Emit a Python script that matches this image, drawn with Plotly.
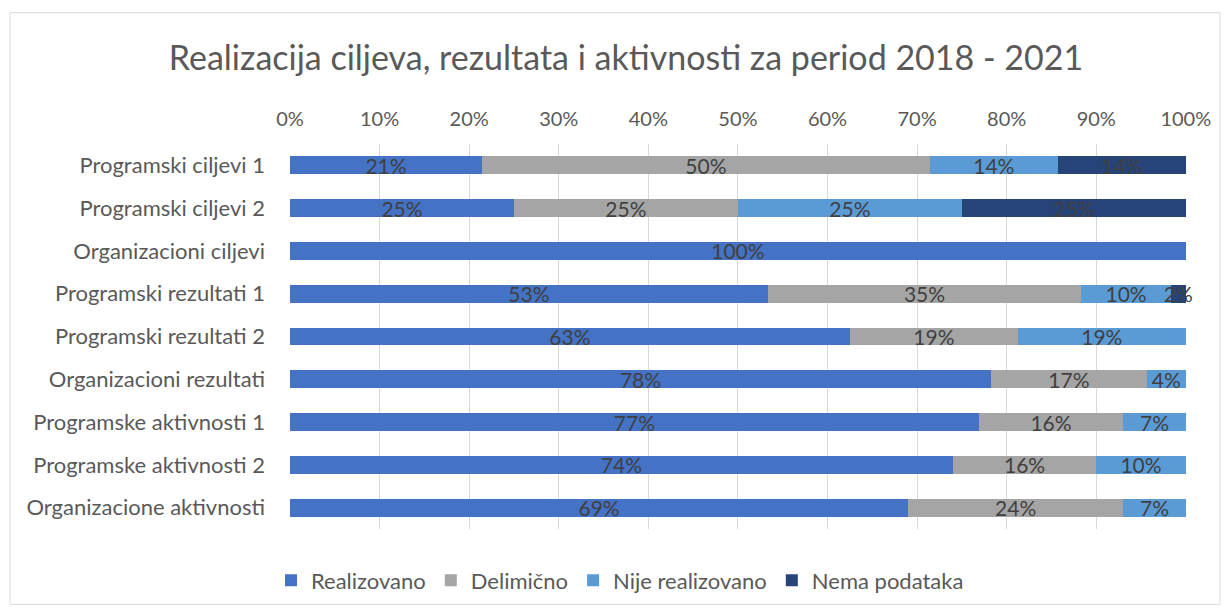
import plotly.graph_objects as go

categories = ["Programski ciljevi 1", "Programski ciljevi 2", "Organizacioni ciljevi",
              "Programski rezultati 1", "Programski rezultati 2", "Organizacioni rezultati",
              "Programske aktivnosti 1", "Programske aktivnosti 2", "Organizacione aktivnosti"]
realizovano = [21.43, 25, 100, 53.33, 62.5, 78.26, 76.9, 74, 69]
delimicno = [50, 25, 0, 35, 18.75, 17.39, 16.1, 16, 24]
nije_realizovano = [14.28, 25, 0, 10, 18.75, 4.35, 7.0, 10, 7]
nema_podataka = [14.29, 25, 0, 1.67, 0, 0, 0, 0, 0]
tick_values = [0, 10, 20, 30, 40, 50, 60, 70, 80, 90, 100]
tick_labels = ["0%", "10%", "20%", "30%", "40%", "50%", "60%", "70%", "80%", "90%", "100%"]

series = [
    ("Realizovano", realizovano, "#4472C4"),
    ("Delimično", delimicno, "#A5A5A5"),
    ("Nije realizovano", nije_realizovano, "#5B9BD5"),
    ("Nema podataka", nema_podataka, "#264478"),
]

FONT = "Lato"
fig = go.Figure()
for name, vals, color in series:
    texts = [f"{round(v + 1e-9):d}%" if v > 0 else "" for v in vals]
    fig.add_trace(go.Bar(
        y=categories, x=vals, name=name, orientation="h",
        marker=dict(color=color, line=dict(width=0)),
        text=texts, textposition="inside", insidetextanchor="middle",
        textangle=0, textfont=dict(family=FONT, size=21, color="#404040"),
        cliponaxis=False,
    ))

W, H = 1230, 613
L, R, T, B = 290, 44, 143.6, 83.5
pw, ph = W - L - R, H - T - B

def px(x):
    return (x - L) / pw

def py(y):
    return (H - B - y) / ph

fig.update_layout(
    width=W, height=H, barmode="stack", bargap=0.58,
    margin=dict(l=L, r=R, t=T, b=B),
    paper_bgcolor="white", plot_bgcolor="white",
    font=dict(family=FONT, color="#595959"),
    title=dict(text="Realizacija ciljeva, rezultata i aktivnosti za period 2018 - 2021",
               x=px(626), xref="paper", xanchor="center",
               y=1 - 58 / H, yref="container", yanchor="middle",
               font=dict(family=FONT, size=34, color="#595959")),
    uniformtext=dict(minsize=21, mode="show"),
    legend=dict(orientation="h", x=px(620), xanchor="center", y=py(581), yanchor="middle",
                font=dict(family=FONT, size=22, color="#595959"), traceorder="normal"),
    xaxis=dict(side="top", range=[0, 100.02], tickmode="array",
               tickvals=tick_values, ticktext=tick_labels,
               showgrid=True, gridcolor="#D9D9D9", gridwidth=1, zeroline=False,
               showline=False, tickfont=dict(family=FONT, size=20, color="#595959"),
               ticklabelstandoff=13, fixedrange=True),
    yaxis=dict(autorange="reversed", showgrid=False, zeroline=False, showline=False,
               tickfont=dict(family=FONT, size=22, color="#595959"),
               ticklabelstandoff=24),
    shapes=[dict(type="rect", xref="paper", yref="paper",
                 x0=px(10), x1=px(1220), y0=py(605), y1=py(12),
                 line=dict(color="#D9D9D9", width=1), fillcolor="rgba(0,0,0,0)", layer="below")],
)

fig.write_html("out.html")
